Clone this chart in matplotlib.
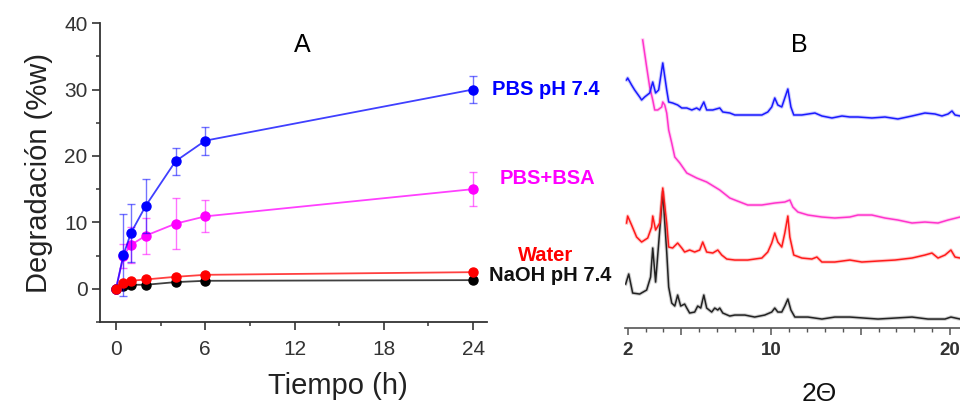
import matplotlib
matplotlib.use('Agg')
import matplotlib.pyplot as plt
from matplotlib.ticker import MultipleLocator

plt.rcParams['font.family'] = ['Liberation Sans', 'DejaVu Sans']

# --- Panel A: degradation vs time ---
time_h = [0, 0.5, 1, 2, 4, 6, 24]

pbs = [0, 5.1, 8.4, 12.5, 19.2, 22.3, 30.0]
pbs_err = [0, 6.2, 4.3, 4.1, 2.0, 2.1, 2.0]

pbs_bsa = [0, 5.0, 6.6, 8.0, 9.8, 10.9, 15.0]
pbs_bsa_err = [0, 1.8, 2.7, 2.7, 3.8, 2.4, 2.6]

water = [0, 0.8, 1.2, 1.4, 1.8, 2.1, 2.5]
naoh = [0, 0.4, 0.6, 0.6, 1.0, 1.2, 1.3]

# --- Panel B: XRD patterns (intensity a.u. above each trace's baseline) ---
tt_black = [1.89, 2.06, 2.28, 2.67, 3.06, 3.28, 3.40, 3.56, 3.96, 4.18, 4.29, 4.46,
            4.63, 4.79, 4.96, 5.18, 5.30, 5.46, 5.74, 5.91, 6.08, 6.25, 6.41, 6.69,
            6.86, 7.03, 7.14, 7.31, 7.70, 7.98, 8.54, 9.09, 9.65, 10.04, 10.21, 10.38,
            10.60, 10.77, 10.94, 11.11, 11.33, 12.06, 12.84, 13.56, 14.40, 15.97, 17.87,
            18.76, 19.71, 20.04, 20.55]
i_black = [36, 46, 27, 26, 30, 43, 72, 38, 128, 68, 33, 17,
           14, 25, 14, 16, 12, 7, 8, 14, 12, 25, 12, 8,
           12, 10, 12, 7, 4, 5, 5, 3, 5, 8, 12, 8,
           8, 14, 21, 10, 3, 3, 1, 3, 3, 1, 3,
           1, 1, 3, 1]

tt_red = [1.94, 2.00, 2.22, 2.50, 2.78, 3.12, 3.34, 3.40, 3.56, 3.79, 3.96, 4.18,
          4.29, 4.51, 4.79, 5.02, 5.18, 5.46, 5.74, 6.02, 6.19, 6.41, 6.75, 7.03,
          7.25, 7.53, 7.98, 8.70, 9.49, 9.82, 10.04, 10.21, 10.38, 10.60, 10.77, 10.94,
          11.05, 11.27, 11.72, 12.28, 12.56, 12.84, 13.56, 14.40, 15.07, 15.97, 16.92,
          17.87, 18.59, 18.98, 19.32, 19.71, 20.04, 20.27, 20.55]
i_red = [39, 46, 37, 25, 20, 24, 35, 46, 32, 39, 74, 39,
         15, 14, 19, 14, 10, 12, 10, 12, 20, 10, 9, 12,
         7, 3, 2, 2, 4, 10, 19, 29, 20, 15, 29, 46,
         25, 7, 4, 3, 5, 0, 0, 2, 0, 1, 2,
         4, 7, 9, 4, 7, 12, 5, 4]

tt_mag = [2.84, 3.06, 3.23, 3.40, 3.51, 3.68, 3.90, 3.96, 4.07, 4.18, 4.29, 4.46,
          4.63, 4.91, 5.30, 5.85, 6.41, 7.14, 7.70, 7.98, 8.70, 9.49, 10.21, 10.77,
          11.05, 11.22, 11.50, 12.06, 12.84, 13.56, 14.40, 14.85, 15.63, 16.36, 17.08,
          17.87, 18.59, 19.32, 19.88, 20.55]
i_mag = [183, 156, 136, 123, 113, 113, 116, 121, 118, 110, 93, 80,
         66, 60, 50, 45, 41, 33, 25, 23, 18, 18, 20, 21,
         23, 16, 11, 8, 6, 5, 6, 8, 8, 5, 3,
         0, 1, 0, 3, 6]

tt_blue = [1.94, 2.00, 2.22, 2.39, 2.67, 2.78, 2.95, 3.23, 3.40, 3.56, 3.73, 3.96,
           4.18, 4.29, 4.51, 4.79, 5.02, 5.30, 5.58, 5.85, 6.02, 6.25, 6.41, 6.75,
           7.14, 7.31, 7.70, 7.98, 8.70, 9.49, 9.82, 10.04, 10.21, 10.38, 10.60, 10.77,
           10.94, 11.11, 11.27, 11.72, 12.45, 12.84, 13.40, 13.96, 14.40, 14.85, 15.63,
           16.36, 17.08, 17.87, 18.59, 19.15, 19.54, 19.88, 20.10, 20.27, 20.55]
i_blue = [40, 42, 35, 30, 23, 20, 23, 27, 38, 27, 30, 57,
          30, 18, 17, 15, 12, 12, 10, 12, 10, 18, 10, 10,
          12, 8, 7, 5, 5, 5, 8, 13, 22, 15, 13, 22,
          31, 13, 5, 5, 7, 4, 2, 4, 3, 3, 2,
          3, 1, 4, 7, 6, 4, 6, 9, 5, 4]

fig = plt.figure(figsize=(9.6, 4.05), dpi=100)

axA = fig.add_axes([0.1042, 0.205, 0.403, 0.738])
axis_col = '#333333'


def series(ax, y, col, z, err=None):
    # faint connecting line, translucent error bars, solid markers on top
    ax.plot(time_h, y, '-', color=col, lw=1.3, alpha=0.75, zorder=z)
    if err is not None:
        eb = ax.errorbar(time_h, y, yerr=err, fmt='none', ecolor=col,
                         elinewidth=1, capsize=3, capthick=1, zorder=z)
        for c in eb[1] + eb[2]:
            c.set_alpha(0.55)
    ax.plot(time_h, y, 'o', color=col, ms=6.5, zorder=z + 0.5)


series(axA, naoh, '#000000', 2)
series(axA, pbs_bsa, '#ff00ff', 3, pbs_bsa_err)
series(axA, pbs, '#0000ff', 4, pbs_err)
series(axA, water, '#ff0000', 5)

axA.set_xlim(-1.075, 24.93)
axA.set_ylim(-5, 40)
axA.xaxis.set_major_locator(MultipleLocator(6))
axA.xaxis.set_minor_locator(MultipleLocator(3))
axA.yaxis.set_major_locator(MultipleLocator(10))
axA.yaxis.set_minor_locator(MultipleLocator(5))
for s in ['top', 'right']:
    axA.spines[s].set_visible(False)
for s in ['left', 'bottom']:
    axA.spines[s].set_color(axis_col)
    axA.spines[s].set_linewidth(1.3)
axA.tick_params(which='major', length=6, width=1.2, color=axis_col,
                labelsize=15, labelcolor='#333333')
axA.tick_params(which='minor', length=3, width=1.1, color=axis_col)
axA.tick_params(axis='x', pad=7)
axA.tick_params(axis='y', pad=3)

axA.set_ylabel('Degradación (%w)', fontsize=21, color='#222222', labelpad=8)
fig.text(0.352, 0.048, 'Tiempo (h)', fontsize=21, color='#222222',
         ha='center', va='center')
fig.text(0.315, 0.888, 'A', fontsize=18, ha='center', va='center')

lab_kw = dict(fontsize=14.5, fontweight='bold', va='center', clip_on=False)
axA.text(25.3, 30.0, 'PBS pH 7.4', color='#0000ff', **lab_kw)
axA.text(25.8, 16.6, 'PBS+BSA', color='#ff00ff', **lab_kw)
axA.text(27.0, 5.0, 'Water', color='#ff0000', **lab_kw)
axA.text(25.07, 1.96, 'NaOH pH 7.4', color='#111111', **lab_kw)

# --- Panel B ---
axB = fig.add_axes([0.651, 0.19, 0.35, 0.736])
traces = [
    (tt_black, i_black, 8, '#222222'),
    (tt_red, i_red, 66, '#ff1a1a'),
    (tt_mag, i_mag, 105, '#ff33cc'),
    (tt_blue, i_blue, 208, '#1a1aff'),
]
for tt, inten, offset, col in traces:
    y = [v + offset for v in inten]
    axB.plot(tt, y, color=col, lw=2.6, alpha=0.22, solid_joinstyle='round')
    axB.plot(tt, y, color=col, lw=1.1)

axB.set_xlim(1.85, 20.6)
axB.set_ylim(0, 298)
axB.set_xticks([2, 5, 10, 15, 20], labels=['2', '', '10', '', '20'])
axB.xaxis.set_minor_locator(MultipleLocator(1))
axB.set_yticks([])
for s in ['top', 'right', 'left']:
    axB.spines[s].set_visible(False)
axB.spines['bottom'].set_color('#555555')
axB.spines['bottom'].set_linewidth(1.2)
axB.tick_params(axis='x', which='major', length=5, width=1.1, color='#555555',
                labelsize=13.5, labelcolor='#333333', pad=5)
for lbl in axB.get_xticklabels():
    lbl.set_fontweight('bold')
axB.tick_params(axis='x', which='minor', length=3, width=1, color='#555555')

fig.text(0.853, 0.028, '2Θ', fontsize=19, ha='center', va='center', color='#111111')
fig.text(0.833, 0.888, 'B', fontsize=18, ha='center', va='center')

fig.savefig('out.png', dpi=100)
